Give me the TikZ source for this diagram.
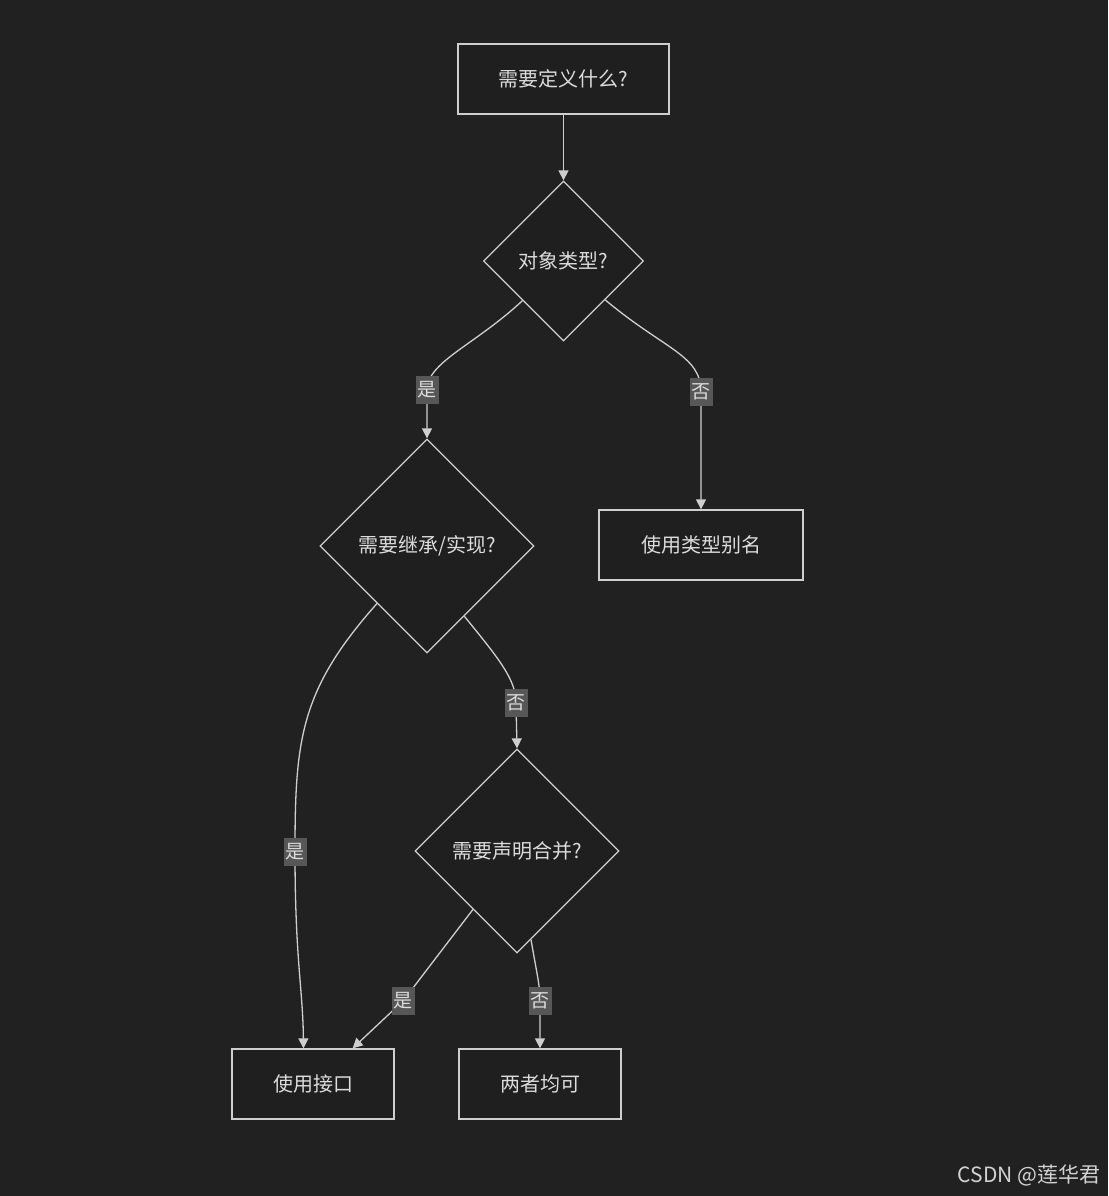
\documentclass[tikz,border=0pt]{standalone}
\usepackage{fontspec}
\setmainfont{Noto Sans CJK SC}
\usetikzlibrary{shapes.geometric,arrows.meta}
\definecolor{bgc}{HTML}{212121}
\definecolor{fillc}{HTML}{1F1F1F}
\definecolor{linec}{HTML}{CFCFCF}
\definecolor{textc}{HTML}{DCDCDC}
\definecolor{lblbg}{HTML}{575757}
\tikzset{
  procbox/.style={draw=linec, fill=fillc, line width=1.3pt, minimum width=#1, minimum height=70pt, inner sep=0pt, text=textc, font=\fontsize{20}{24}\selectfont},
  decbox/.style={draw=linec, fill=fillc, line width=1.3pt, shape=diamond, minimum width=#1, minimum height=#1, inner sep=0pt, text=textc, font=\fontsize{20}{24}\selectfont},
  edge/.style={draw=linec, line width=1.3pt, -{Triangle[length=10pt,width=10pt]}},
  lbl/.style={fill=lblbg, text=textc, inner xsep=2pt, inner ysep=6pt, font=\fontsize{19}{22}\selectfont}
}
\begin{document}
\begin{tikzpicture}[x=1pt,y=-1pt]
\fill[bgc] (0,0) rectangle (1108,1196);
\useasboundingbox (0,0) rectangle (1108,1196);

\node[procbox=211pt] (top) at (563.5,79) {需要定义什么?};
\node[decbox=160pt] (d1) at (563.5,261) {对象类型?};
\node[decbox=214pt] (d2) at (427,546) {需要继承/实现?};
\node[procbox=204pt] (alias) at (701,545) {使用类型别名};
\node[decbox=204pt] (d3) at (517,851) {需要声明合并?};
\node[procbox=162pt] (use) at (313,1084) {使用接口};
\node[procbox=162pt] (both) at (540,1084) {两者均可};

\draw[edge] (top.south) -- (d1.north);
\draw[edge] (d1.-136) .. controls (475,345) and (427,362) .. (427,390) node[lbl] {是} -- (d2.north);
\draw[edge] (d1.-43) .. controls (665,350) and (701,355) .. (701,392) node[lbl] {否} -- (alias.north);
\draw[edge] (d2.-131) .. controls (300,690) and (295,740) .. (295,852) node[lbl] {是} .. controls (295,960) and (303,990) .. (use.105);
\draw[edge] (d2.-62) .. controls (500,660) and (516,680) .. (516,703) node[lbl] {否} -- (d3.north);
\draw[edge] (d3.-127) -- (403,1001) node[lbl] {是} -- (use.42);
\draw[edge] (d3.-81) .. controls (537,975) and (540,985) .. (540,1001) node[lbl] {否} -- (both.north);

\node[text=textc!90!gray, font=\fontsize{21}{24}\selectfont, anchor=east] (wm) at (1104,1175) {CSDN @莲华君};
\end{tikzpicture}
\end{document}
